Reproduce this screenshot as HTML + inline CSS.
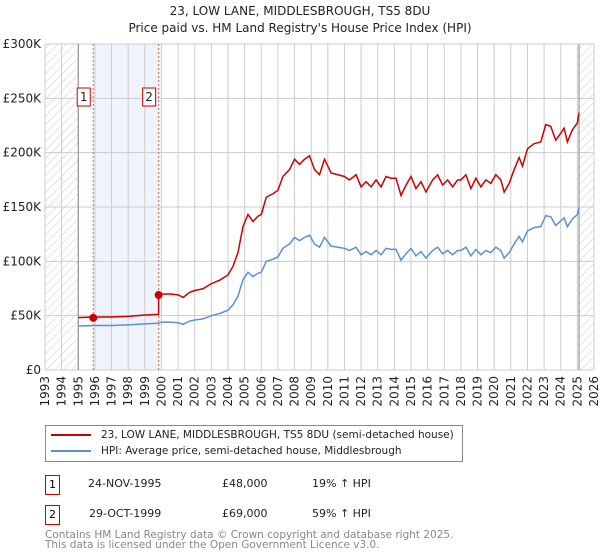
<!DOCTYPE html>
<html><head><meta charset="utf-8"><style>
body{margin:0;width:600px;height:560px;background:#fff;font-family:"DejaVu Sans","Liberation Sans",sans-serif;overflow:hidden;position:relative}
.t{position:absolute;left:0;width:600px;text-align:center;font-size:12px;color:#222}
.abs{position:absolute;font-size:11px;color:#222}
.box{position:absolute;border:1px solid #c00;width:13px;height:18px;font-size:11px;text-align:center;line-height:18px;background:#fff}
svg text{font-family:"DejaVu Sans","Liberation Sans",sans-serif}
</style></head><body>
<div class="t" style="top:4px">23, LOW LANE, MIDDLESBROUGH, TS5 8DU</div>
<div class="t" style="top:21px">Price paid vs. HM Land Registry's House Price Index (HPI)</div>
<svg id="chart" width="600" height="420" style="position:absolute;left:0;top:0"></svg>
<div style="position:absolute;left:45px;top:425px;width:416px;height:35px;border:1px solid #888">
<div style="position:absolute;left:5px;top:3px;font-size:10.5px;color:#222;white-space:nowrap"><span style="display:inline-block;width:40px;height:2px;background:#c00;vertical-align:middle;margin-right:10px"></span>23, LOW LANE, MIDDLESBROUGH, TS5 8DU (semi-detached house)</div>
<div style="position:absolute;left:5px;top:19px;font-size:10.5px;color:#222;white-space:nowrap"><span style="display:inline-block;width:40px;height:2px;background:#5b8fd4;vertical-align:middle;margin-right:10px"></span>HPI: Average price, semi-detached house, Middlesbrough</div>
</div>
<div class="box" style="left:45px;top:475px">1</div>
<div class="abs" style="left:88px;top:477px">24-NOV-1995</div>
<div class="abs" style="left:222px;top:477px">£48,000</div>
<div class="abs" style="left:312px;top:477px">19% ↑ HPI</div>
<div class="box" style="left:45px;top:505px">2</div>
<div class="abs" style="left:89px;top:507px">29-OCT-1999</div>
<div class="abs" style="left:222px;top:507px">£69,000</div>
<div class="abs" style="left:312px;top:507px">59% ↑ HPI</div>
<div class="abs" style="left:45px;top:530px;color:#888;font-size:10.5px;line-height:10px;white-space:nowrap">Contains HM Land Registry data © Crown copyright and database right 2025.<br>This data is licensed under the Open Government Licence v3.0.</div>
<script>
const hpiYears=[1995,1996,1997,1998,1999,1999.8,2000,2000.5,2001,2001.3,2001.7,2002,2002.5,2003,2003.5,2004,2004.3,2004.6,2004.9,2005.2,2005.5,2005.8,2006,2006.3,2006.7,2007,2007.3,2007.7,2008,2008.3,2008.6,2008.9,2009.2,2009.5,2009.8,2010.2,2010.6,2011,2011.3,2011.7,2012,2012.3,2012.6,2012.9,2013.2,2013.5,2013.8,2014.1,2014.4,2014.7,2015,2015.3,2015.6,2015.9,2016.3,2016.6,2016.9,2017.2,2017.5,2017.8,2018,2018.3,2018.6,2018.9,2019.2,2019.5,2019.8,2020.1,2020.4,2020.6,2020.9,2021.2,2021.5,2021.7,2022,2022.4,2022.8,2023.1,2023.4,2023.7,2024,2024.2,2024.4,2024.7,2025,2025.1];
const hpiValues=[40.5,41,41,41.5,42.5,43,44,44,43.5,42,45,46,47,50,52,55,60,68,83,90,86,89,90,100,102,104,112,116,122,119,122,124,116,113,122,114,113,112,110,113,106,109,106,110,106,112,111,111,101,107,112,105,109,103,110,113,107,110,106,110,110,113,105,111,106,110,108,113,110,103,108,116,123,118,128,131,132,142,141,133,137,140,132,139,143,149];
const saleYears=[1995.9,1999.83];
const salePrices=[48,69];
const saleRatios=[1.19,1.59];
const yTicks=[0,50,100,150,200,250,300];
const yTickLabels=["£0","£50K","£100K","£150K","£200K","£250K","£300K"];
const xYears=[];for(let y=1993;y<=2026;y++)xYears.push(y);

const L=45,R=594,T=44,B=370,X0=1993,X1=2026;
const sx=v=>L+(v-X0)*(R-L)/(X1-X0), sy=v=>B-v*(B-T)/300;
const svg=document.getElementById('chart'),NS='http://www.w3.org/2000/svg';
function mk(t,a,p){const e=document.createElementNS(NS,t);for(const k in a)e.setAttribute(k,a[k]);(p||svg).appendChild(e);return e;}
const defs=mk('defs',{});
const pat=mk('pattern',{id:'hatch',width:6,height:6,patternUnits:'userSpaceOnUse',patternTransform:'rotate(45)'},defs);
mk('line',{x1:0,y1:0,x2:0,y2:6,stroke:'#ccc','stroke-width':1},pat);
let e;
e=mk('rect',{x:sx(saleYears[0]),y:T,width:sx(saleYears[1])-sx(saleYears[0]),height:B-T,fill:'#eef3fc'});

e=mk('rect',{x:L,y:T,width:sx(1995)-L,height:B-T,fill:'url(#hatch)'});

e=mk('rect',{x:sx(2025.1),y:T,width:R-sx(2025.1),height:B-T,fill:'url(#hatch)'});

xYears.forEach(y=>{const l=mk('line',{x1:sx(y),x2:sx(y),y1:T,y2:B,stroke:'#ccc'});

const t=mk('text',{x:0,y:0,transform:`translate(${sx(y)+4},${B+6}) rotate(-90)`,'text-anchor':'end','font-size':12,fill:'#222'});t.textContent=y;
});
yTicks.forEach((v,i)=>{const l=mk('line',{x1:L,x2:R,y1:sy(v),y2:sy(v),stroke:'#ccc'});

const t=mk('text',{x:L-4,y:sy(v)+4,'text-anchor':'end','font-size':12,fill:'#222'});t.textContent=yTickLabels[i];
});
[1995,2025.1].forEach(y=>{const l=mk('line',{x1:sx(y),x2:sx(y),y1:T,y2:B,stroke:'#888'});
});
saleYears.forEach((y,i)=>{const l=mk('line',{x1:sx(y),x2:sx(y),y1:T,y2:B,stroke:'#e55','stroke-dasharray':'2,2'});
});
e=mk('polyline',{points:hpiYears.map((y,i)=>sx(y)+','+sy(hpiValues[i])).join(' '),fill:'none',stroke:'#5b8fd4','stroke-width':1.5});

const pts=[];let jumped=false;hpiYears.forEach((y,i)=>{const r=y<saleYears[1]?saleRatios[0]:saleRatios[1];
if(y>=saleYears[1]&&pts.length&&!jumped){pts.push(sx(saleYears[1])+','+sy(hpiValues[i-1]*saleRatios[0]));pts.push(sx(saleYears[1])+','+sy(salePrices[1]));jumped=true;}
pts.push(sx(y)+','+sy(hpiValues[i]*r));});
e=mk('polyline',{points:pts.join(' '),fill:'none',stroke:'#c00','stroke-width':1.5});

saleYears.forEach((y,i)=>{const c=mk('circle',{cx:sx(y),cy:sy(salePrices[i]),r:4,fill:'#c00'});

const g=mk('g',{});
mk('rect',{x:sx(y)-16,y:88,width:13,height:18,fill:'#fff',stroke:'#c00'},g);
const t=mk('text',{x:sx(y)-9.5,y:101,'text-anchor':'middle','font-size':12,fill:'#222'},g);t.textContent=i+1;});
</script>
</body></html>
